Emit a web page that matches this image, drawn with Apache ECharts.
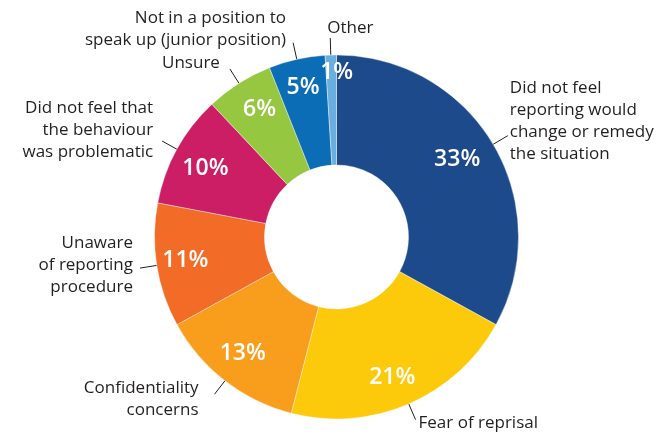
<!DOCTYPE html>
<html>
<head>
<meta charset="utf-8">
<title>Reasons for not reporting</title>
<script src="https://cdn.jsdelivr.net/npm/echarts@6/dist/echarts.min.js"></script>
<style>
html, body { margin: 0; padding: 0; background: #fff; }
#chart { width: 671px; height: 438px; }
</style>
</head>
<body>
<div id="chart"></div>
<script>
// data
var reasons = [
  'Did not feel\nreporting would\nchange or remedy\nthe situation',
  'Fear of reprisal',
  'Confidentiality\nconcerns',
  'Unaware\nof reporting\nprocedure',
  'Did not feel that\nthe behaviour\nwas problematic',
  'Unsure',
  'Not in a position to\nspeak up (junior position)',
  'Other'
];
var shares = [33, 21, 13, 11, 10, 6, 5, 1];
var colors = ['#1c4a8b', '#fdca0b', '#f99d1c', '#f26b27', '#cb1e64', '#96c740', '#0a6db6', '#6aaee0'];

// small nudges so the labels sit like in the original
var nameNudge = {
  0: { dx: -5, dy: -15 },
  1: { dx: -4, dy: 4 },
  2: { dx: -9, dy: 5 },
  3: { dy: -3 },
  4: { dy: -11, dx: -2 },
  5: { dy: -6, dx: -3 },
  6: { dy: -14 },
  7: { align: 'left', dx: 4, dy: -10 }
};
var pctNudge = {
  0: { dx: -11 },
  1: { dx: -5 },
  2: { dy: -4 },
  4: { dx: 3, dy: 5 },
  5: { dx: 5, dy: 2 },
  7: { dx: 5, dy: -12 }
};

function nudge(table) {
  return function (p) {
    var n = table[p.dataIndex] || {};
    return { hideOverlap: false, dx: n.dx || 0, dy: n.dy || 0, align: n.align };
  };
}

var chart = echarts.init(document.getElementById('chart'));

var ringData = reasons.map(function (r, i) {
  return { name: r, value: shares[i], itemStyle: { color: colors[i] } };
});
var pctData = reasons.map(function (r, i) {
  return { name: r, value: shares[i] };
});

var center = ['50.15%', '54.1%'];

chart.setOption({
  animation: false,
  series: [
    {
      type: 'pie',
      center: center,
      radius: [72, 182],
      startAngle: 90,
      clockwise: true,
      avoidLabelOverlap: false,
      silent: true,
      data: ringData,
      itemStyle: { borderColor: '#fff', borderWidth: 0.4 },
      label: {
        show: true,
        position: 'outside',
        formatter: '{b}',
        fontFamily: 'Open Sans',
        fontSize: 17,
        lineHeight: 22,
        color: '#231f20',
        distanceToLabelLine: 7
      },
      labelLine: {
        show: true,
        length: 17,
        length2: 0,
        smooth: false,
        lineStyle: { color: '#231f20', width: 1 }
      },
      labelLayout: nudge(nameNudge)
    },
    {
      // transparent copy only to put the % labels a bit outside mid-ring
      type: 'pie',
      center: center,
      radius: [118, 182],
      startAngle: 90,
      clockwise: true,
      avoidLabelOverlap: false,
      silent: true,
      data: pctData,
      itemStyle: { color: 'rgba(0,0,0,0)' },
      label: {
        show: true,
        position: 'inside',
        formatter: '{c}%',
        fontFamily: 'Open Sans',
        fontWeight: 600,
        fontSize: 23,
        color: '#fff'
      },
      labelLine: { show: false },
      labelLayout: nudge(pctNudge)
    }
  ]
});
</script>
</body>
</html>
